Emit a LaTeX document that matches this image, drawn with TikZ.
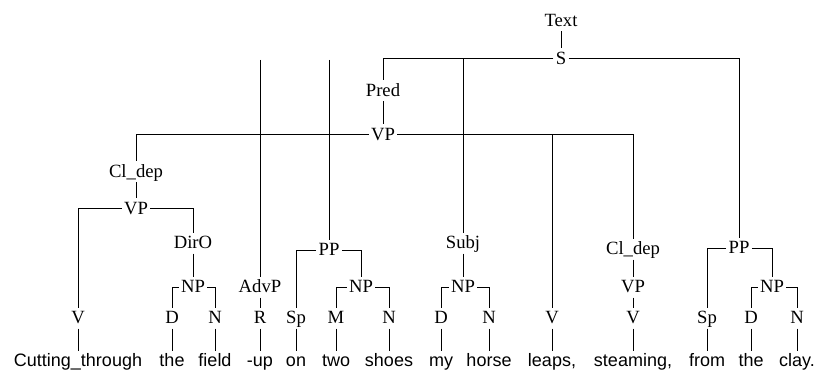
\documentclass[tikz,border=0pt]{standalone}
\usepackage{fontspec}
\setmainfont{Liberation Serif}
\newfontfamily\wordfont{Liberation Sans}
\begin{document}
\begin{tikzpicture}[x=.75pt,y=-.75pt,line width=.75pt,
    cat/.style={font=\fontsize{14}{15}\selectfont,inner xsep=1.5pt,inner ysep=2.5pt,text height=9pt,text depth=1pt},
    word/.style={font=\wordfont\fontsize{13.5}{15}\selectfont,inner sep=2pt,text height=9.5pt,text depth=2.5pt}]
    \useasboundingbox (0,0) rectangle (816,370);
    % phrase nodes
    \node[cat] (text) at (561,21) {Text};
    \node[cat] (s) at (561,59) {S};
    \node[cat] (pred) at (383,91) {Pred};
    \node[cat] (vp) at (383,135) {VP};
    \node[cat] (cldep) at (136,172) {Cl\_dep};
    \node[cat] (vpa) at (136,209) {VP};
    \node[cat] (diro) at (193,243) {DirO};
    \node[cat] (npa) at (193,287) {NP};
    \node[cat] (advp) at (260,287) {AdvP};
    \node[cat] (ppa) at (329,250) {PP};
    \node[cat] (npb) at (361,287) {NP};
    \node[cat] (subj) at (463,243) {Subj};
    \node[cat] (npc) at (463,287) {NP};
    \node[cat] (cldepb) at (633,249) {Cl\_dep};
    \node[cat] (vpb) at (633,287) {VP};
    \node[cat] (ppb) at (739,248) {PP};
    \node[cat] (npd) at (772,287) {NP};
    % word classes
    \foreach \n/\x/\c in {v1/78/V,d1/172/D,n1/215/N,r/260/R,sp1/296/Sp,m/336/M,n2/389/N,
        d2/441/D,n3/489/N,v2/552/V,v3/633/V,sp2/707/Sp,d3/751/D,n4/797/N}
        \node[cat] (\n) at (\x,318) {\c};
    % words
    \foreach \n/\x/\w in {w1/78/Cutting\_through,w2/172/the,w3/215/field,w4/260/-up,w5/296/on,
        w6/336/two,w7/389/shoes,w8/441/my,w9/489/horse,w10/552/{leaps,},w11/633/{steaming,},
        w12/707/from,w13/751/the,w14/797/clay.}
        \node[word] (\n) at (\x,362) {\w};
    % branches
    \draw (text) -- (s);
    \draw (s.west) -| (pred.north);
    \draw (s.east) -| (ppb.north);
    \draw (s.west -| subj) -- (subj.north);
    \draw (pred) -- (vp);
    \draw (vp.west) -| (cldep.north);
    \draw (vp.east) -| (cldepb.north);
    \draw (vp.east -| v2) -- (v2.north);
    \coordinate (topa) at (260,60);
    \coordinate (topb) at (329,60);
    \draw (topa) -- (advp.north);
    \draw (topb) -- (ppa.north);
    \draw (cldep) -- (vpa);
    \draw (vpa.west) -| (v1.north);
    \draw (vpa.east) -| (diro.north);
    \draw (diro) -- (npa);
    \draw (npa.west) -| (d1.north);
    \draw (npa.east) -| (n1.north);
    \draw (advp) -- (r);
    \draw (ppa.west) -| (sp1.north);
    \draw (ppa.east) -| (npb.north);
    \draw (npb.west) -| (m.north);
    \draw (npb.east) -| (n2.north);
    \draw (subj) -- (npc);
    \draw (npc.west) -| (d2.north);
    \draw (npc.east) -| (n3.north);
    \draw (cldepb) -- (vpb);
    \draw (vpb) -- (v3);
    \draw (ppb.west) -| (sp2.north);
    \draw (ppb.east) -| (npd.north);
    \draw (npd.west) -| (d3.north);
    \draw (npd.east) -| (n4.north);
    \foreach \a/\b in {v1/w1,d1/w2,n1/w3,r/w4,sp1/w5,m/w6,n2/w7,d2/w8,n3/w9,v2/w10,v3/w11,sp2/w12,d3/w13,n4/w14}
        \draw (\a) -- (\b);
\end{tikzpicture}
\end{document}
